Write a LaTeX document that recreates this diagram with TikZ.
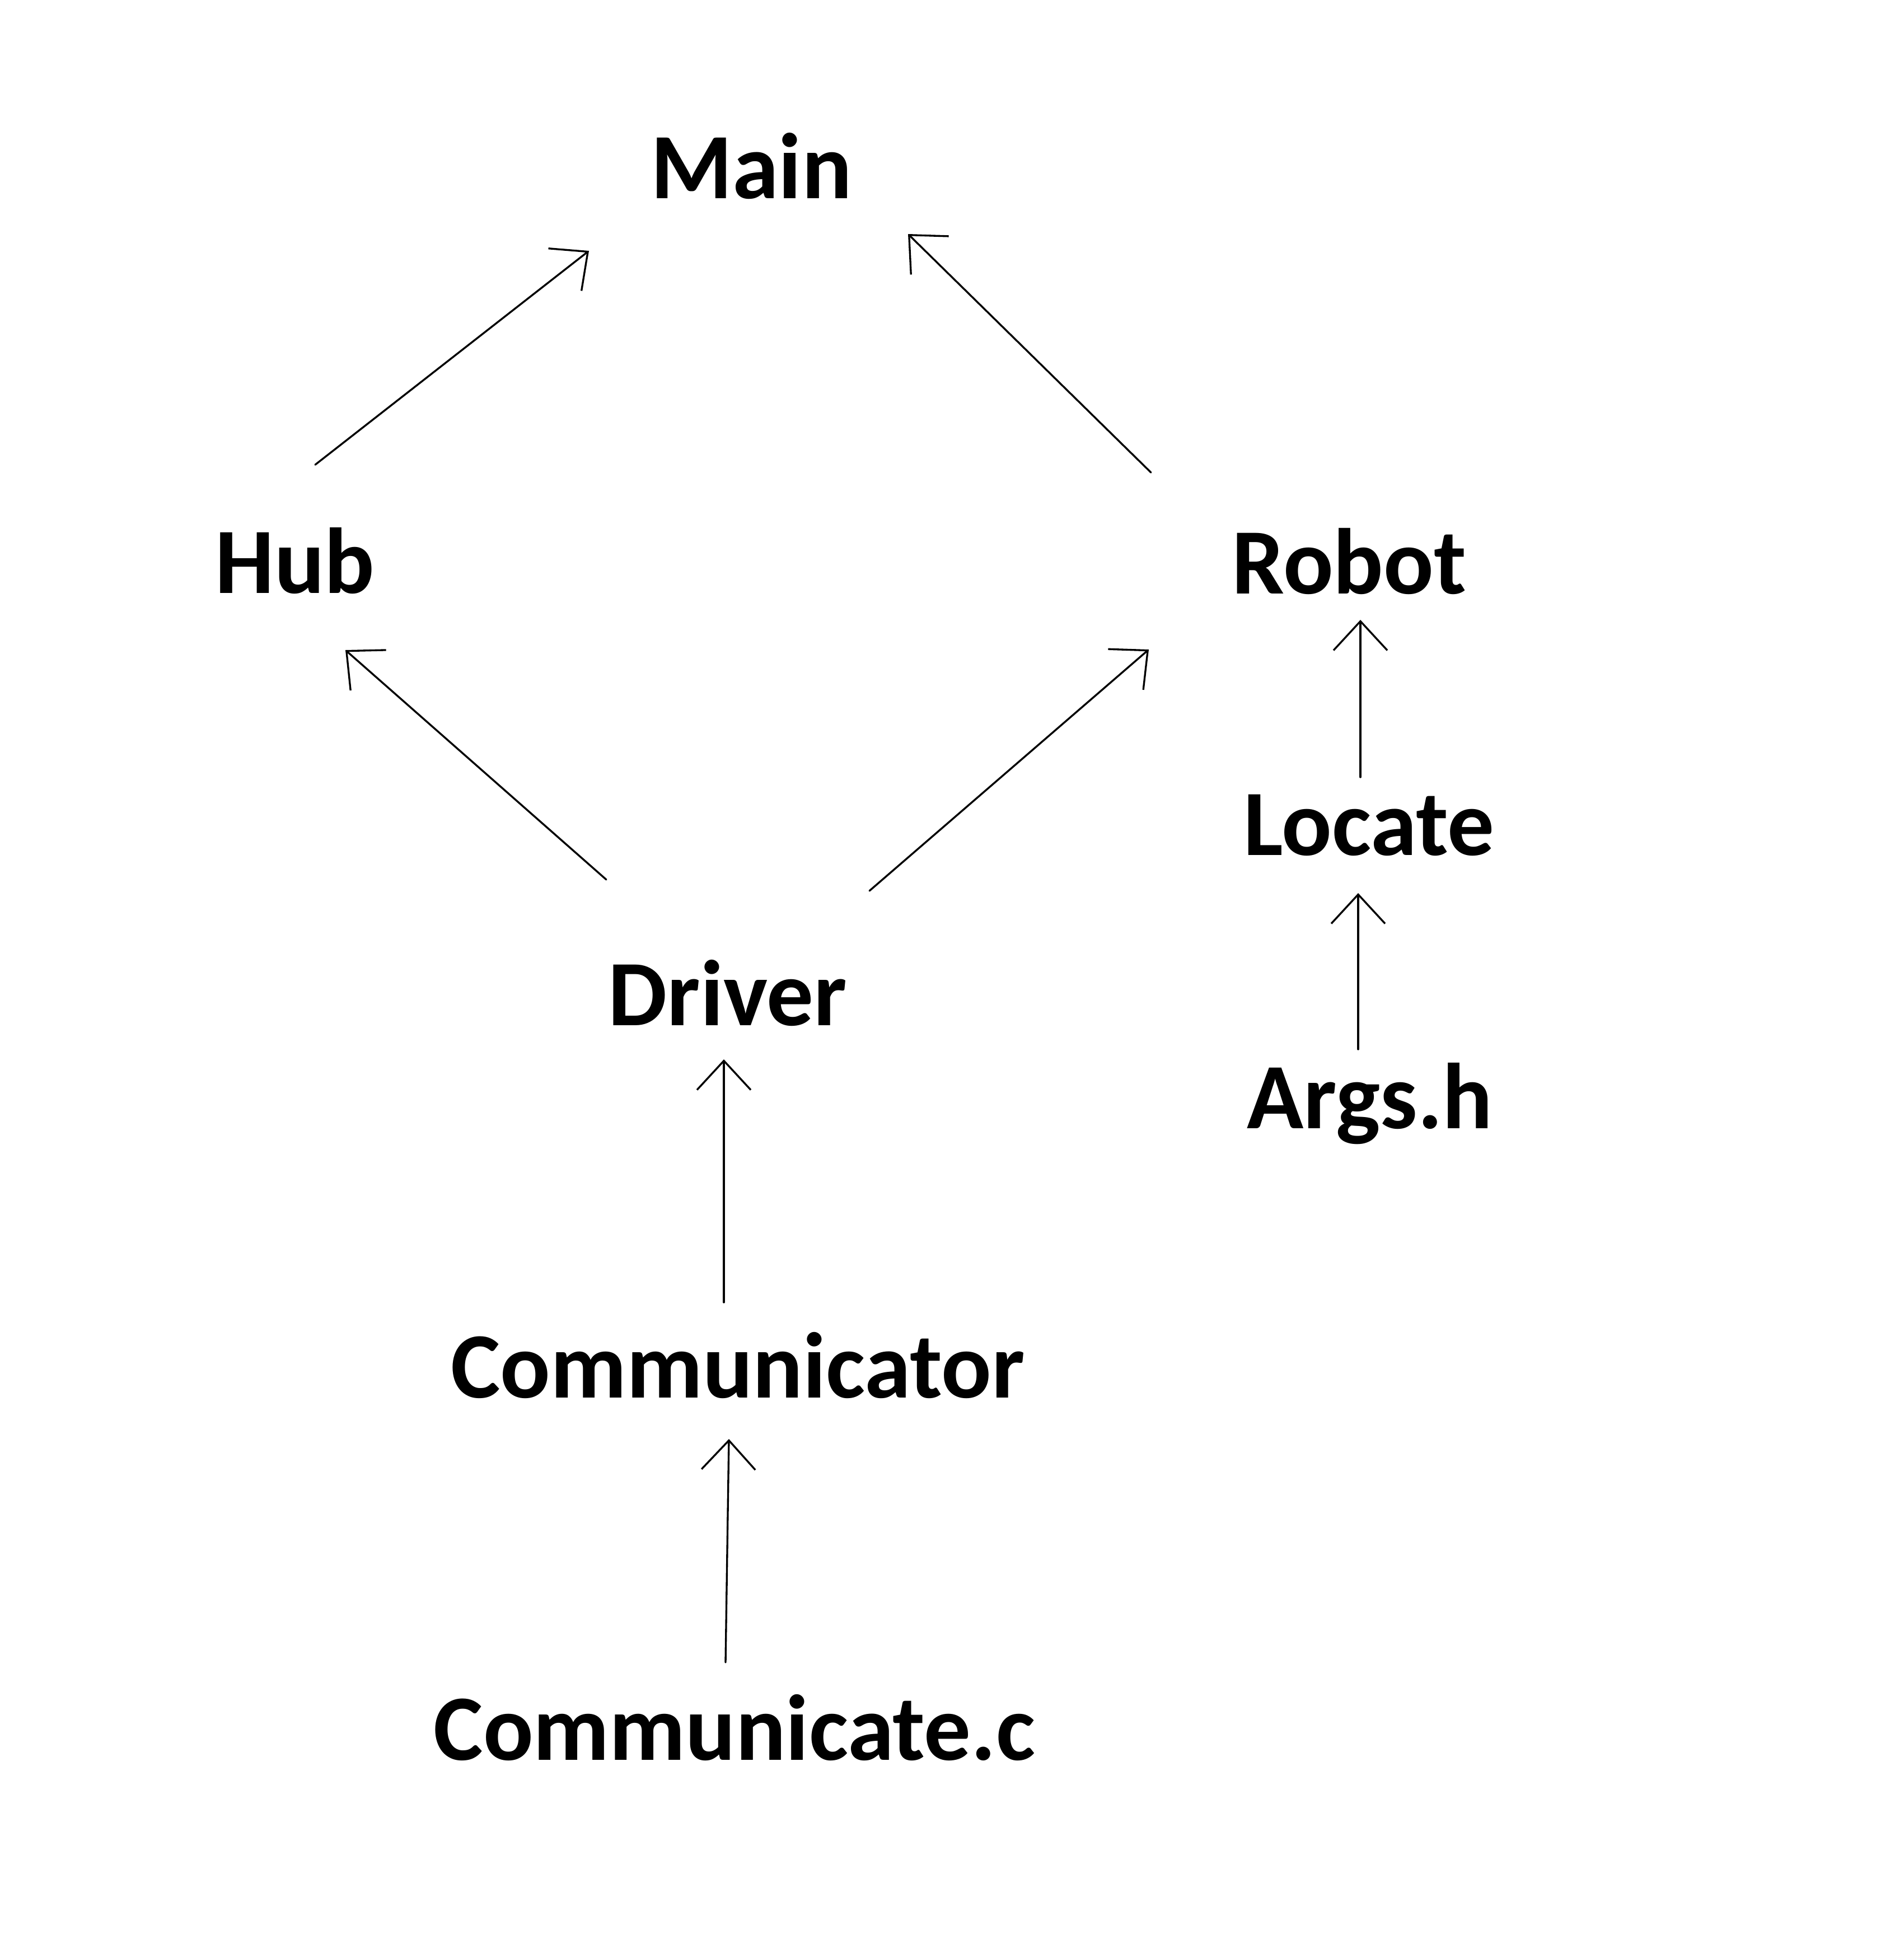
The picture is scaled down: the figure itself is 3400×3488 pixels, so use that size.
\documentclass[tikz,border=0pt]{standalone}
\usepackage{fontspec}
\setmainfont{Carlito}
\usetikzlibrary{arrows.meta}

\begin{document}
\begin{tikzpicture}[x=0.01cm,y=-0.01cm]

	% styles
	\tikzstyle{module}=[inner sep=0pt,anchor=base,font=\fontsize{47.5}{50}\selectfont\bfseries];
	\tikzstyle{dep}=[line width=0.95pt,line cap=round,line join=round,-{Straight Barb[length=5.2mm,width=9.6mm]}];

	% page size (same as the picture)
	\useasboundingbox (0,0) rectangle (3400,3488);

	% the modules, placed on their baselines
	\node[module] (main) at (1342,355) {Main};
	\node[module] (hub) at (527,1059) {Hub};
	\node[module] (robot) at (2410,1060) {Robot};
	\node[module] (locate) at (2445,1527) {Locate};
	\node[module] (args) at (2447,2015) {Args.h};
	\node[module] (driver) at (1300,1831) {Driver};
	\node[module] (comm) at (1318,2496) {Communicator};
	\node[module] (commc) at (1312,3143) {Communicate.c};

	% top: hub and robot into main
	\draw[style=dep] ([shift={(36,-229)}]hub.base) -- ([shift={(-290,93)}]main.base);
	\draw[style=dep] ([shift={(-354,-216)}]robot.base) -- ([shift={(280,63)}]main.base);

	% driver into hub and robot
	\draw[style=dep] ([shift={(-217,-260)}]driver.base) -- ([shift={(90,102)}]hub.base);
	\draw[style=dep] ([shift={(253,-240)}]driver.base) -- ([shift={(-358,100)}]robot.base);

	% right column
	\draw[style=dep] ([shift={(-15,-139)}]locate.base) -- ([shift={(20,47)}]robot.base);
	\draw[style=dep] ([shift={(-21,-141)}]args.base) -- ([shift={(-19,68)}]locate.base);

	% left column
	\draw[style=dep] ([shift={(-25,-170)}]comm.base) -- ([shift={(-7,61)}]driver.base);
	\draw[style=dep] ([shift={(-16,-174)}]commc.base) -- ([shift={(-16,74)}]comm.base);

\end{tikzpicture}
\end{document}
